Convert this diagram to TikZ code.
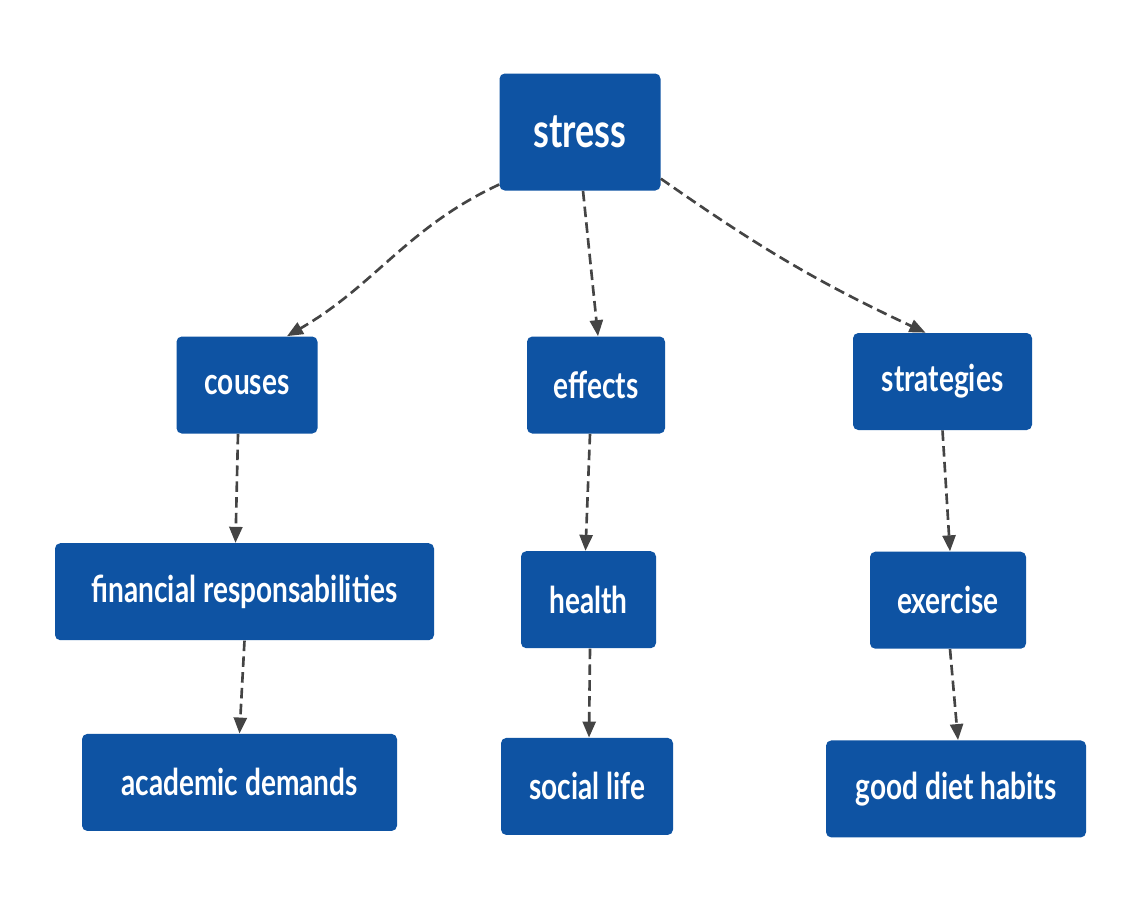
\documentclass[tikz,border=0pt]{standalone}
\usepackage{fontspec}
\setmainfont[FakeStretch=0.76]{Lato}
\usepackage{tikz}
\usetikzlibrary{arrows.meta,positioning}
\definecolor{topicfill}{RGB}{14,83,163}
\definecolor{linkgray}{RGB}{68,68,68}
\tikzset{
  topic/.style={
    fill=topicfill,
    text=white,
    rounded corners=3pt,
    align=center,
    inner sep=4pt,
    minimum height=19.4mm,
    font=\fontsize{21}{25}\selectfont\bfseries
  },
  roottopic/.style={
    topic,
    minimum height=23.4mm,
    font=\fontsize{27}{32}\selectfont\bfseries
  },
  link/.style={-{Triangle[length=3.2mm,width=2.6mm]}, linkgray, line width=1.5pt, dash pattern=on 6pt off 3pt}
}

\begin{document}
\begin{tikzpicture}
  \fill[white] (0,0) rectangle (22.58,-18);
  \useasboundingbox (0,0) rectangle (22.58,-18);

  \node[roottopic, minimum width=32.2mm] (stress) at (11.60,-2.64) {stress};

  \node[topic, minimum width=28.2mm] (couses) at (4.94,-7.70) {couses};
  \node[topic, minimum width=27.6mm] (effects) at (11.92,-7.70) {effects};
  \node[topic, minimum width=35.8mm] (strategies) at (18.85,-7.63) {strategies};

  \node[topic, minimum width=75.8mm, below=21.8mm of couses, xshift=-0.5mm] (finance) {financial responsabilities};
  \node[topic, minimum width=63mm, below=18.6mm of finance, xshift=-1mm] (academic) {academic demands};

  \node[topic, minimum width=27mm, below=23.4mm of effects, xshift=-1.5mm] (health) {health};
  \node[topic, minimum width=34.4mm, below=17.8mm of health, xshift=-0.3mm] (social) {social life};

  \node[topic, minimum width=31.2mm, below=24.2mm of strategies, xshift=1.1mm] (exercise) {exercise};
  \node[topic, minimum width=52mm, below=18.2mm of exercise, xshift=1.6mm] (diet) {good diet habits};

  \draw[link] (stress.213) to[out=205, in=30] ([xshift=8mm]couses.north);
  \draw[link] ([xshift=0.6mm]stress.south) -- ([xshift=0.4mm]effects.north);
  \draw[link] (stress.330) to[out=-35, in=155] ([xshift=-3.4mm]strategies.north);

  \draw[link] ([xshift=-1.8mm]couses.south) -- ([xshift=-1.8mm]finance.north);
  \draw[link] (finance.south) -- (academic.north);

  \draw[link] ([xshift=-1.2mm]effects.south) -- ([xshift=-0.6mm]health.north);
  \draw[link] ([xshift=0.3mm]health.south) -- ([xshift=0.4mm]social.north);

  \draw[link] (strategies.south) -- ([xshift=0.4mm]exercise.north);
  \draw[link] ([xshift=0.4mm]exercise.south) -- ([xshift=0.4mm]diet.north);
\end{tikzpicture}
\end{document}
